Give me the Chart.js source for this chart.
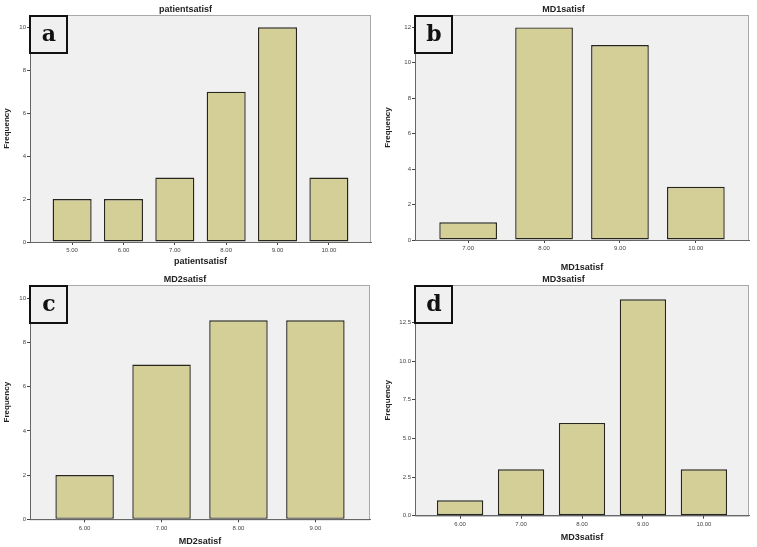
<!DOCTYPE html>
<html>
<head>
<meta charset="utf-8">
<script src="https://cdn.jsdelivr.net/npm/chart.js@4.4.1/dist/chart.umd.min.js"></script>
<style>
  html, body { margin: 0; padding: 0; background: #ffffff; }
  body { width: 757px; height: 547px; position: relative; overflow: hidden; }
  canvas { position: absolute; }
</style>
</head>
<body>
<canvas id="ca" width="378" height="270" style="left:0px;top:0px"></canvas>
<canvas id="cb" width="379" height="275" style="left:378px;top:0px"></canvas>
<canvas id="cc" width="378" height="277" style="left:0px;top:270px"></canvas>
<canvas id="cd" width="379" height="277" style="left:378px;top:270px"></canvas>
<script>
// ---- data ----
const titleA = "patientsatisf";
const catsA = [5, 6, 7, 8, 9, 10];
const freqA = [2, 2, 3, 7, 10, 3];

const titleB = "MD1satisf";
const catsB = [7, 8, 9, 10];
const freqB = [1, 12, 11, 3];

const titleC = "MD2satisf";
const catsC = [6, 7, 8, 9];
const freqC = [2, 7, 9, 9];

const titleD = "MD3satisf";
const catsD = [6, 7, 8, 9, 10];
const freqD = [1, 3, 6, 14, 3];

const panelLetters = ["a", "b", "c", "d"];
const yTitle = "Frequency";

// ---- styles ----
const FONT = "'Liberation Sans', Arial, sans-serif";
const BAR_FILL = "rgb(212,207,150)";
const BAR_EDGE = "#26261e";
const PLOT_BG = "#f0f0f0";

const framePlugin = {
  id: "frame",
  beforeDraw(chart) {
    const {ctx, chartArea: a} = chart;
    ctx.save();
    ctx.fillStyle = PLOT_BG;
    ctx.fillRect(a.left, a.top, a.right - a.left, a.bottom - a.top);
    ctx.strokeStyle = "#a8a8a8";
    ctx.lineWidth = 1;
    ctx.strokeRect(a.left + 0.5, a.top + 0.5, a.right - a.left - 1, a.bottom - a.top);
    ctx.restore();
  },
  afterDraw(chart, args, opts) {
    const {ctx, chartArea: a} = chart;
    const x = a.left - 1, y = a.top + 1, w = 38, h = 38;
    ctx.save();
    ctx.fillStyle = PLOT_BG;
    ctx.fillRect(x, y, w, h);
    ctx.strokeStyle = "#111";
    ctx.lineWidth = 2;
    ctx.strokeRect(x + 1, y, w - 1, h - 1);
    ctx.fillStyle = "#111";
    ctx.font = "bold 22px 'DejaVu Serif', 'Liberation Serif', serif";
    ctx.textAlign = "center";
    ctx.textBaseline = "middle";
    ctx.fillText(opts.letter, x + w / 2 + 1, y + h / 2);
    ctx.restore();
  }
};

function makeChart(id, cfg) {
  const data = cfg.cats.map((c, i) => ({x: c, y: cfg.freq[i]}));
  return new Chart(document.getElementById(id), {
    type: "bar",
    data: {
      datasets: [{
        data: data,
        backgroundColor: BAR_FILL,
        borderColor: BAR_EDGE,
        borderWidth: 1.4,
        borderSkipped: false,
        categoryPercentage: 1,
        barPercentage: 0.76
      }]
    },
    options: {
      responsive: false,
      animation: false,
      devicePixelRatio: 1,
      layout: { padding: { left: 0, right: cfg.padRight, top: 0, bottom: 0 } },
      plugins: {
        legend: { display: false },
        tooltip: { enabled: false },
        title: {
          display: true,
          text: cfg.title,
          color: "#222",
          font: { family: FONT, size: 9, weight: "bold" },
          padding: { top: 4, bottom: 0.2 }
        },
        frame: { letter: cfg.letter }
      },
      scales: {
        x: {
          type: "linear",
          min: cfg.xmin,
          max: cfg.xmax,
          offset: false,
          afterFit(s) { s.height = cfg.xHeight; },
          grid: { display: true, offset: false, drawOnChartArea: false, drawTicks: true, tickLength: 3, color: "#444" },
          border: { display: true, color: "#666", width: 1 },
          ticks: {
            stepSize: 1,
            includeBounds: false,
            autoSkip: false,
            maxRotation: 0,
            padding: 2,
            color: "#444",
            font: { family: FONT, size: 6 },
            callback: v => Number(v).toFixed(2)
          },
          title: {
            display: true,
            text: cfg.title,
            color: "#222",
            font: { family: FONT, size: 9, weight: "bold" },
            padding: { top: 0, bottom: cfg.xTitlePad }
          }
        },
        y: {
          min: 0,
          max: cfg.ymax,
          afterFit(s) { s.width = cfg.yWidth; },
          grid: { display: true, drawOnChartArea: false, drawTicks: true, tickLength: 3, color: "#444" },
          border: { display: true, color: "#666", width: 1 },
          ticks: {
            stepSize: cfg.ystep,
            includeBounds: false,
            padding: 1,
            color: "#444",
            font: { family: FONT, size: 6 },
            callback: v => cfg.ydec ? Number(v).toFixed(1) : String(v)
          },
          title: {
            display: true,
            text: yTitle,
            color: "#222",
            font: { family: FONT, size: 8, weight: "bold" },
            padding: { top: cfg.yTitlePad, bottom: 0 }
          }
        }
      }
    },
    plugins: [framePlugin]
  });
}

makeChart("ca", { title: titleA, cats: catsA, freq: freqA, letter: panelLetters[0],
  xmin: 4.18, xmax: 10.82, ymax: 10.57, ystep: 2, ydec: false,
  yWidth: 30, xHeight: 28, padRight: 7, xTitlePad: 2.6, yTitlePad: 2 });
makeChart("cb", { title: titleB, cats: catsB, freq: freqB, letter: panelLetters[1],
  xmin: 6.3, xmax: 10.7, ymax: 12.7, ystep: 2, ydec: false,
  yWidth: 37, xHeight: 35, padRight: 8, xTitlePad: 2.5, yTitlePad: 5 });
makeChart("cc", { title: titleC, cats: catsC, freq: freqC, letter: panelLetters[2],
  xmin: 5.29, xmax: 9.71, ymax: 10.6, ystep: 2, ydec: false,
  yWidth: 30, xHeight: 27.7, padRight: 8, xTitlePad: 0.5, yTitlePad: 2 });
makeChart("cd", { title: titleD, cats: catsD, freq: freqD, letter: panelLetters[3],
  xmin: 5.26, xmax: 10.74, ymax: 14.92, ystep: 2.5, ydec: true,
  yWidth: 37, xHeight: 31.3, padRight: 8, xTitlePad: 4, yTitlePad: 5 });
</script>
</body>
</html>
